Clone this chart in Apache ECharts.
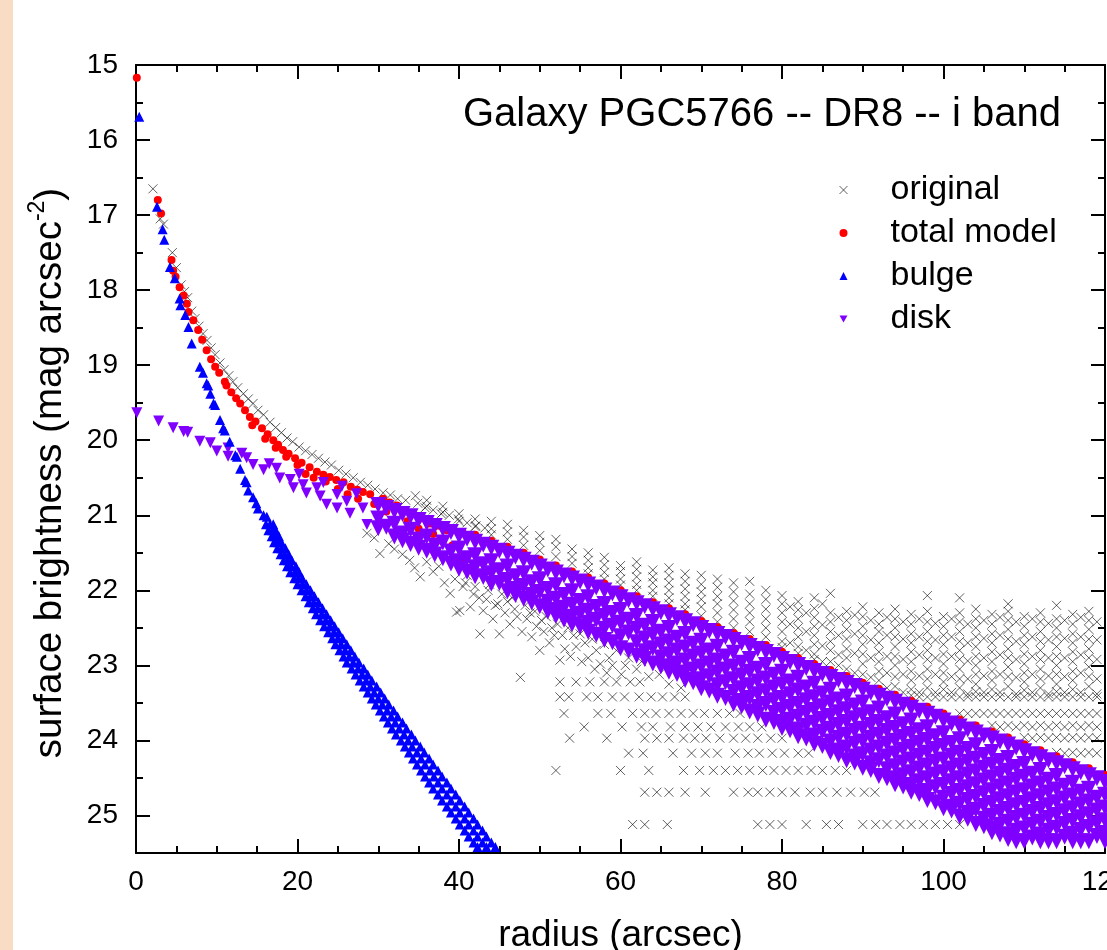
<!DOCTYPE html>
<html><head><meta charset="utf-8">
<script src="https://cdn.jsdelivr.net/npm/echarts@6/dist/echarts.min.js"></script>
<style>html,body{margin:0;padding:0;background:#fff}#c{width:1107px;height:950px}</style>
</head><body><div id="c"></div>
<script>
// ---------------- DATA ----------------
const titleText = 'Galaxy PGC5766 -- DR8 -- i band';
const xTicks = [0, 20, 40, 60, 80, 100, 120];
const yTicks = [15, 16, 17, 18, 19, 20, 21, 22, 23, 24, 25];

// original: points along the inner profile [r, mu]
const origProfile = [[2.1,16.65],[3.0,17.05],[3.4,17.12],[4.5,17.5],[5.0,17.7],[5.6,17.93],[6.0,18.02],[6.4,18.1],[6.9,18.28],[7.3,18.38],[7.8,18.48],[8.3,18.58],[8.8,18.67],[9.3,18.77],[9.8,18.86],[10.4,18.97],[10.9,19.06],[11.5,19.14],[12.0,19.22],[12.6,19.3],[13.3,19.38],[13.9,19.45],[14.5,19.51],[15.1,19.6],[15.8,19.66],[16.6,19.76],[17.3,19.83],[18.0,19.9],[18.7,19.97],[19.4,20.02],[20.2,20.09],[21.0,20.14],[21.8,20.19],[22.6,20.24],[23.4,20.29],[24.2,20.33],[25.1,20.4],[26.0,20.45],[26.9,20.5],[27.8,20.56],[28.7,20.6],[29.6,20.65],[30.6,20.7],[31.5,20.73],[32.4,20.78],[33.4,20.8],[34.6,20.74],[34.9,20.84],[35.8,20.9],[36.8,20.93],[37.8,20.98],[38.8,21.0],[39.9,21.05],[41.0,21.1],[42.1,21.14],[43.2,21.17]];
// original: scatter below the disk band [r, mu]
const origBelow = [[28.6,21.24],[29.5,21.3],[30.2,21.51],[31.3,21.38],[32.0,21.45],[33.0,21.52],[33.9,21.6],[34.5,21.7],[35.2,21.82],[36.0,21.62],[36.8,21.75],[37.5,21.68],[38.2,21.9],[38.9,22.04],[39.5,21.85],[39.7,22.29],[40.1,22.27],[40.5,21.95],[40.8,21.9],[41.0,21.8],[41.4,22.22],[41.8,22.05],[42.0,21.95],[42.5,22.1],[42.6,22.58],[43.0,22.27],[43.4,22.12],[43.6,22.0],[43.8,21.92],[44.2,22.38],[44.5,22.2],[44.8,22.18],[45.0,22.58],[45.3,22.05],[45.7,22.3],[46.0,22.15],[46.3,22.45],[46.6,22.1],[46.9,22.25],[47.2,22.35],[47.6,23.16],[47.8,22.55],[48.2,22.2],[48.4,22.38],[48.8,22.3],[49.0,22.62],[49.4,22.28],[49.6,22.48],[50.0,22.8],[50.2,22.4],[50.5,22.55],[50.8,22.35],[51.2,22.7],[51.5,22.5],[51.8,22.6],[52.2,22.45],[52.5,22.93],[52.8,22.6],[53.1,22.78],[53.5,22.5],[53.8,22.88],[54.2,22.6],[54.5,22.75],[55.0,22.58],[55.2,22.95],[55.6,22.7],[56.0,22.9],[56.5,22.65],[56.8,23.05],[57.0,22.8],[57.5,22.98],[58.0,22.72],[58.3,23.1],[58.6,22.9],[59.0,23.0],[59.5,22.8],[60.1,23.12],[60.6,23.0],[61.0,22.9],[62.0,23.05],[62.6,22.95],[63.5,23.15],[64.8,23.12],[66.0,23.25],[67.5,23.3]];
// original: cloud above the disk band, columns [r, mu1, mu2, ...]
const origUpperCols = [[36,20.8,20.88],[38,20.88,20.96],[40,20.98,21.08],[42,21.05,21.15],[44,21.08,21.18,21.26],[46,21.12,21.22,21.32],[48,21.2,21.29,21.4],[50,21.27,21.36,21.47],[52,21.32,21.42,21.55],[54,21.45,21.55,21.64],[56,21.5,21.6,21.7,21.78],[58,21.56,21.66,21.76,21.85],[60,21.67,21.75,21.85,21.93],[62,21.62,21.72,21.82,21.92,22.0],[64,21.73,21.82,21.9,22.0,22.08],[66,21.7,21.8,21.9,22.0,22.1,22.18],[68,21.78,21.88,21.98,22.08,22.18,22.26],[70,21.8,21.92,22.02,22.12,22.22,22.34],[72,21.85,21.96,22.08,22.18,22.3,22.42],[74,21.9,22.02,22.14,22.26,22.38,22.5],[76,21.88,22.05,22.18,22.3,22.42,22.55],[78,22.0,22.12,22.25,22.38,22.5,22.62],[80,22.07,22.18,22.3,22.42,22.55,22.68,22.76],[81,22.22,22.45,22.7],[82,22.15,22.26,22.38,22.5,22.62,22.75,22.84],[83,22.3,22.55,22.8],[84,22.1,22.24,22.36,22.48,22.6,22.72,22.85,22.92],[85,22.18,22.46,22.74,22.95],[86,22.04,22.3,22.42,22.55,22.68,22.8,22.95],[87,22.36,22.6,22.86,23.0],[88,22.28,22.4,22.52,22.65,22.78,22.9,23.05],[89,22.33,22.58,22.84,23.1],[90,22.22,22.35,22.48,22.6,22.72,22.85,22.98,23.12],[91,22.4,22.66,22.9,23.16],[92,22.3,22.45,22.55,22.7,22.82,22.95,23.08,23.2],[93,22.36,22.6,22.88,23.1,23.3],[94,22.25,22.38,22.5,22.62,22.75,22.88,23.0,23.15,23.28],[95,22.42,22.65,22.92,23.12,23.36],[96,22.32,22.45,22.58,22.7,22.82,22.95,23.08,23.2,23.32,23.4],[97,22.38,22.62,22.86,23.14,23.36],[98,22.07,22.28,22.42,22.55,22.68,22.8,22.92,23.05,23.18,23.3,23.42],[99,22.44,22.66,22.9,23.12,23.36],[100,22.35,22.48,22.6,22.72,22.85,22.98,23.1,23.22,23.32,23.42],[101,22.38,22.62,22.88,23.15,23.36],[102,22.1,22.3,22.42,22.55,22.68,22.8,22.92,23.05,23.18,23.3,23.42,23.64],[103,22.45,22.7,22.94,23.18,23.38],[104,22.25,22.38,22.5,22.62,22.75,22.88,23.0,23.12,23.25,23.35,23.42,23.64],[105,22.4,22.64,22.9,23.14,23.36],[106,22.32,22.45,22.58,22.7,22.82,22.95,23.08,23.2,23.32,23.42,23.64,23.8],[107,22.36,22.6,22.86,23.12,23.36],[108,22.18,22.28,22.4,22.52,22.65,22.78,22.9,23.02,23.15,23.28,23.42,23.64,23.8],[109,22.42,22.68,22.92,23.16,23.38],[110,22.35,22.48,22.6,22.72,22.85,22.98,23.1,23.22,23.33,23.42,23.64,23.8,23.96],[111,22.38,22.62,22.88,23.12,23.36],[112,22.3,22.42,22.55,22.68,22.8,22.92,23.05,23.18,23.3,23.42,23.64,23.8,23.96],[113,22.44,22.66,22.9,23.14,23.38],[114,22.2,22.38,22.5,22.62,22.75,22.88,23.0,23.12,23.25,23.35,23.42,23.64,23.8,23.96,24.16],[115,22.4,22.64,22.9,23.15,23.36],[116,22.32,22.45,22.58,22.7,22.82,22.95,23.08,23.2,23.32,23.42,23.64,23.8,23.96,24.16],[117,22.36,22.62,22.86,23.1,23.36],[118,22.28,22.4,22.52,22.65,22.78,22.9,23.02,23.15,23.28,23.42,23.64,23.8,23.96,24.16],[119,22.42,22.66,22.92,23.18,23.38]];
// original: quantised faint rows [mu, r1, r2, ...]
const origStripeRows = [
  [23.22,52.5,54.5,56.2,58.0,59.5,61.2,62.4],
  [23.42,52.5,53.6,55.8,57.2,59.0,60.5,62.3,63.8,65.2,66.7,68.0,97,99,101,103,105,107,109,111,113,115,117,119],
  [23.64,53.0,57.2,58.8,61.5,63.0,64.4,66.0,67.5,69.0,70.4,72.0,73.5,74.8,103,105,107,109,111,113,115,117,119],
  [23.82,55.5,60.2,62.6,64.0,66.2,68.0,69.6,71.2,73.0,74.6,76.0,77.5,107,109,111,113,115,117,119],
  [23.97,53.7,58.3,63.0,64.5,66.0,67.8,69.2,70.6,72.3,74.0,75.5,77.0,78.6,80.0,111,113,115,117,119],
  [24.17,61.0,62.8,66.5,68.8,70.5,72.0,74.2,75.8,77.2,78.8,80.3,82.0,83.3,115,117,119],
  [24.4,52.0,60.0,63.5,67.8,69.8,71.5,73.0,74.5,76.0,77.6,79.0,80.5,82.0,83.6,85.0,86.6,88.0],
  [24.69,63.0,64.5,66.0,68.0,70.5,74.0,75.8,77.0,78.5,80.0,81.6,83.5,85.0,86.8,88.5,90.2,91.5],
  [25.12,61.5,63.0,65.8,77.0,78.5,80.0,83.0,85.5,87.0,90.0,91.6,93.0,94.6,96.0,97.5,99.0,100.5,102.0]
];

// total model [r, mu]
const totalInner = [[0.1,15.17],[2.7,16.8],[3.1,16.98],[4.4,17.6],[4.6,17.74],[4.9,17.82],[5.4,17.96],[5.9,18.07],[6.3,18.18],[6.5,18.29],[7.1,18.4],[7.7,18.53],[8.2,18.66],[8.75,18.8],[9.3,18.92],[9.8,19.02],[10.3,19.1],[11.0,19.22],[11.2,19.27],[11.8,19.36],[12.4,19.44],[12.9,19.51],[13.5,19.6],[14.1,19.69],[14.8,19.75],[15.6,19.84],[16.3,19.92],[17.0,20.0],[17.6,20.06],[18.2,20.13],[18.9,20.18],[19.7,20.24],[20.5,20.3],[21.5,20.36],[22.4,20.42],[23.2,20.46],[24.0,20.49],[24.8,20.53],[25.7,20.56],[26.6,20.62],[27.4,20.66],[28.1,20.69],[29.0,20.72],[30.6,20.78],[31.4,20.83],[32.3,20.87],[33.3,20.93],[34.3,20.98],[35.4,21.04],[36.4,21.11],[37.5,21.14],[38.5,21.2],[40.5,21.24],[14.4,19.8],[16.0,19.98],[17.3,20.1],[18.6,20.22],[20.0,20.33],[21.0,20.45],[22.0,20.5],[23.5,20.55],[25.0,20.65],[26.2,20.72],[27.5,20.78],[29.5,20.85],[31.0,20.95],[32.3,21.2],[33.6,21.08],[35.0,21.18],[36.8,21.25],[38.0,21.35],[39.2,21.4],[40.5,21.6]];
const totalOuter = [[42,21.26],[44,21.34],[46,21.42],[48,21.5],[50,21.59],[52,21.67],[54,21.75],[56,21.83],[58,21.91],[60,22.0],[62,22.08],[64,22.16],[66,22.24],[68,22.32],[70,22.41],[72,22.49],[74,22.57],[76,22.65],[78,22.73],[80,22.82],[82,22.9],[84,22.98],[86,23.06],[88,23.14],[90,23.23],[92,23.31],[94,23.39],[96,23.47],[98,23.55],[100,23.64],[102,23.72],[104,23.8],[106,23.88],[108,23.96],[110,24.05],[112,24.13],[114,24.21],[116,24.29],[118,24.37],[120,24.46]];

// bulge: inner points [r, mu] and band rows [mu, r1, r2, ...]
const bulgeInner = [[0.4,15.69],[2.6,16.89],[3.3,17.19],[3.5,17.33],[4.2,17.69],[4.8,17.84],[5.4,18.11],[5.5,18.2],[6.1,18.33],[6.5,18.49],[6.9,18.71],[7.9,19.02],[8.3,19.1],[8.75,19.24],[8.95,19.27],[9.2,19.38],[9.6,19.51],[9.8,19.53],[10.4,19.73],[10.8,19.84],[11.0,19.87],[11.6,20.02],[12.3,20.2],[12.5,20.22],[12.9,20.38],[13.5,20.53],[13.7,20.56],[13.9,20.67],[14.5,20.76],[14.9,20.84],[15.1,20.91],[15.8,21.0],[16.2,21.02]];
const bulgeRows = [[21.12,16.1,16.6,17.0],[21.2,16.4,16.9,17.3],[21.28,16.8,17.2,17.7],[21.36,17.1,17.6,18.0],[21.44,17.5,18.0,18.5],[21.52,17.9,18.4,18.9],[21.6,18.3,18.8,19.3],[21.68,18.7,19.2,19.8],[21.76,19.1,19.7,20.2],[21.84,19.6,20.1,20.6],[21.92,20.0,20.6,21.1],[22.0,20.5,21.1,21.6],[22.08,21.0,21.6,22.1],[22.16,21.4,22.0,22.6],[22.24,21.9,22.5,23.1],[22.32,22.3,23.0,23.6],[22.4,22.8,23.5,24.1],[22.48,23.3,24.0,24.6],[22.56,23.8,24.5,25.1],[22.64,24.3,25.0,25.6],[22.72,24.7,25.4,26.1],[22.8,25.2,25.9,26.6],[22.88,25.7,26.4,27.1],[22.96,26.1,26.9,27.6],[23.04,26.7,27.5,28.2],[23.12,27.2,28.0,28.7],[23.2,27.7,28.5,29.2],[23.28,28.2,29.0,29.8],[23.36,28.7,29.5,30.3],[23.44,29.2,30.0,30.8],[23.52,29.7,30.5,31.3],[23.6,30.2,31.1,31.9],[23.68,30.7,31.6,32.4],[23.76,31.2,32.1,33.0],[23.84,31.7,32.6,33.5],[23.92,32.2,33.2,34.1],[24.0,32.8,33.7,34.6],[24.08,33.3,34.2,35.2],[24.16,33.8,34.8,35.7],[24.24,34.3,35.3,36.3],[24.32,34.8,35.8,36.8],[24.4,35.3,36.4,37.4],[24.48,35.8,36.9,37.9],[24.56,36.3,37.4,38.5],[24.64,36.8,37.9,39.0],[24.72,37.4,38.5,39.6],[24.8,37.9,39.0,40.1],[24.88,38.5,39.6,40.7],[24.96,39.0,40.1,41.2],[25.04,39.6,40.7,41.8],[25.12,40.1,41.2,42.3],[25.2,40.7,41.8,42.9],[25.28,41.2,42.3,43.4],[25.36,41.8,42.9,44.0],[25.42,42.3,43.4,44.5]];

// disk: inner points [r, mu] and band columns [r, mu1, mu2, ...]
const diskInner = [[0.1,19.62],[2.8,19.73],[4.6,19.82],[5.9,19.87],[6.4,19.88],[7.9,20.0],[9.2,20.02],[10.0,20.13],[11.4,20.09],[11.4,20.2],[13.1,20.16],[13.7,20.22],[14.5,20.31],[15.8,20.38],[16.5,20.3],[17.4,20.36],[17.8,20.49],[19.1,20.51],[19.5,20.62],[20.2,20.44],[20.7,20.58],[21.1,20.69],[22.4,20.62],[22.8,20.73],[23.2,20.55],[23.6,20.84],[24.9,20.71],[24.9,20.89],[25.5,20.6],[26.1,20.8],[26.5,20.96],[27.3,20.7],[28.1,20.89],[28.6,21.11]];
const diskCols = [[30,20.85,21.03,21.16],[32,20.93,21.1,21.27],[34,21.0,21.18,21.37],[36,21.09,21.27,21.46],[38,21.17,21.35,21.56],[40,21.26,21.43,21.6,21.7],[42,21.34,21.52,21.68,21.8],[44,21.42,21.6,21.76,21.9],[46,21.5,21.67,21.85,22.0],[48,21.58,21.76,21.93,22.1],[50,21.67,21.84,22.01,22.2],[52,21.75,21.92,22.1,22.25,22.33],[54,21.83,22.0,22.18,22.34,22.44],[56,21.91,22.08,22.26,22.42,22.54],[58,21.99,22.17,22.33,22.5,22.65],[60,22.08,22.25,22.42,22.6,22.76],[62,22.16,22.33,22.5,22.68,22.86],[64,22.24,22.41,22.58,22.76,22.96],[66,22.32,22.49,22.67,22.84,23.0,23.07],[68,22.4,22.57,22.75,22.92,23.08,23.18],[70,22.49,22.66,22.83,23.0,23.17,23.29],[72,22.57,22.74,22.92,23.08,23.25,23.39],[74,22.65,22.82,23.0,23.17,23.34,23.5],[76,22.73,22.9,23.07,23.25,23.42,23.6],[78,22.81,22.98,23.16,23.33,23.5,23.71],[80,22.9,23.07,23.24,23.42,23.58,23.75,23.82],[82,22.98,23.15,23.32,23.5,23.67,23.84,23.93],[84,23.06,23.23,23.41,23.58,23.75,23.92,24.03],[86,23.14,23.31,23.48,23.66,23.83,24.0,24.14],[88,23.22,23.4,23.57,23.74,23.91,24.08,24.25],[90,23.31,23.48,23.65,23.83,24.0,24.17,24.35],[92,23.39,23.56,23.74,23.91,24.08,24.25,24.46],[94,23.47,23.64,23.82,23.99,24.16,24.33,24.5,24.57],[96,23.55,23.72,23.9,24.07,24.24,24.41,24.58,24.67],[98,23.63,23.81,23.98,24.15,24.32,24.49,24.66,24.78],[100,23.72,23.89,24.06,24.24,24.41,24.58,24.75,24.89],[102,23.8,23.97,24.15,24.32,24.49,24.66,24.83,25.0],[104,23.88,24.05,24.23,24.4,24.57,24.74,24.91,25.1],[106,23.96,24.14,24.31,24.48,24.65,24.82,24.99,25.16,25.21],[108,24.04,24.22,24.39,24.56,24.73,24.9,25.07,25.24,25.3],[110,24.13,24.3,24.47,24.65,24.82,24.99,25.16,25.33],[112,24.21,24.38,24.56,24.73,24.9,25.07,25.24,25.33],[114,24.29,24.46,24.64,24.81,24.98,25.15,25.33],[116,24.37,24.55,24.72,24.89,25.06,25.23,25.33],[118,24.45,24.63,24.8,24.97,25.14,25.33],[120,24.54,24.71,24.88,25.05,25.22,25.33]];
// disk: in-between columns (staggered rows)
const diskColsOdd = [[31,20.89,21.14],[33,20.97,21.23,21.32],[35,21.05,21.31,21.42],[37,21.13,21.39,21.51],[39,21.21,21.47,21.63],[41,21.3,21.56,21.74],[43,21.38,21.64,21.81],[45,21.46,21.72,21.89],[47,21.54,21.8,21.97,22.05],[49,21.62,21.88,22.05,22.15],[51,21.71,21.97,22.14,22.27],[53,21.79,22.05,22.22,22.38],[55,21.87,22.13,22.3,22.47],[57,21.95,22.21,22.38,22.58],[59,22.03,22.29,22.46,22.68],[61,22.12,22.38,22.55,22.79],[63,22.2,22.46,22.63,22.8,22.9],[65,22.28,22.54,22.71,22.88,23.0],[67,22.36,22.62,22.79,22.96,23.1],[69,22.44,22.7,22.87,23.04,23.21],[71,22.53,22.79,22.96,23.13,23.32],[73,22.61,22.87,23.04,23.21,23.42],[75,22.69,22.95,23.12,23.29,23.46,23.53],[77,22.77,23.03,23.2,23.37,23.54,23.64],[79,22.85,23.11,23.28,23.45,23.62,23.74],[81,22.94,23.2,23.37,23.54,23.71,23.85],[83,23.02,23.28,23.45,23.62,23.79,23.96],[85,23.1,23.36,23.53,23.7,23.87,24.06],[87,23.18,23.44,23.61,23.78,23.95,24.12,24.18],[89,23.26,23.52,23.69,23.86,24.03,24.2,24.28],[91,23.35,23.61,23.78,23.95,24.12,24.29,24.38],[93,23.43,23.69,23.86,24.03,24.2,24.37,24.49],[95,23.51,23.77,23.94,24.11,24.28,24.45,24.6],[97,23.59,23.85,24.02,24.19,24.36,24.53,24.7],[99,23.67,23.93,24.1,24.27,24.44,24.61,24.81],[101,23.76,24.02,24.19,24.36,24.53,24.7,24.87,24.92],[103,23.84,24.1,24.27,24.44,24.61,24.78,24.95,25.03],[105,23.92,24.18,24.35,24.52,24.69,24.86,25.03,25.13],[107,24.0,24.26,24.43,24.6,24.77,24.94,25.11,25.24],[109,24.08,24.34,24.51,24.68,24.85,25.02,25.19,25.33],[111,24.17,24.43,24.6,24.77,24.94,25.11,25.28],[113,24.25,24.51,24.68,24.85,25.02,25.19,25.33],[115,24.33,24.59,24.76,24.93,25.1,25.27],[117,24.41,24.67,24.84,25.01,25.18,25.33],[119,24.49,24.75,24.92,25.09,25.26]];

// ---------------- build point lists from the arrays ----------------
function colsToPts(cols){ const o=[]; cols.forEach(c=>{ for(let i=1;i<c.length;i++) o.push([c[0],c[i]]); }); return o; }
function rowsToPts(rows){ const o=[]; rows.forEach(r=>{ for(let i=1;i<r.length;i++) o.push([r[i],r[0]]); }); return o; }
const origData  = origProfile.concat(origBelow, colsToPts(origUpperCols), rowsToPts(origStripeRows));
const totalData = totalInner.concat(totalOuter);
const bulgeData = bulgeInner.concat(rowsToPts(bulgeRows));
const diskData  = diskInner.concat(colsToPts(diskCols), colsToPts(diskColsOdd));

// ---------------- chart ----------------
const FONT = '"Liberation Sans", Arial, Helvetica, sans-serif';
const chart = echarts.init(document.getElementById('c'), null, {renderer:'canvas', width:1107, height:950});
const blk = {color:'#000', width:2};

function xAx(pos, labels){
  return {type:'value', position:pos, min:0, max:120, interval:20,
    axisLine:{show:true, onZero:false, lineStyle:blk},
    axisTick:{show:true, inside:true, length:14, lineStyle:blk},
    minorTick:{show:true, splitNumber:4, length:7, lineStyle:blk},
    splitLine:{show:false}, minorSplitLine:{show:false},
    axisLabel:{show:labels, fontSize:28, color:'#000', margin:15, fontFamily:FONT},
    name: labels ? 'radius (arcsec)' : '', nameLocation:'middle', nameGap:64,
    nameTextStyle:{fontSize:37, color:'#000', fontFamily:FONT}};
}
function yAx(pos, step, tickLen, labels, line){
  return {type:'value', position:pos, offset:0, inverse:true, min:15, max:25.5, interval:step,
    axisLine:{show:line, onZero:false, lineStyle:blk},
    axisTick:{show:true, inside:true, length:tickLen, lineStyle:blk},
    splitLine:{show:false},
    axisLabel:{show:labels, fontSize:28, color:'#000', margin:18, fontFamily:FONT,
      formatter: v => (yTicks.indexOf(v) >= 0 ? String(v) : '')},
    name: labels ? 'surface brightness (mag arcsec{s|-2})' : '',
    nameLocation:'middle', nameGap:62,
    nameTextStyle:{fontSize:38.5, color:'#000', fontFamily:FONT, lineHeight:48, padding:[0,28,0,0],
      rich:{s:{fontSize:23, lineHeight:23, verticalAlign:'top', color:'#000', fontFamily:FONT}}}};
}

const option = {
  animation:false,
  backgroundColor:'#ffffff',
  textStyle:{fontFamily:FONT},
  graphic:[{type:'rect', left:0, top:0, z:-10, silent:true, shape:{x:0,y:0,width:13,height:950}, style:{fill:'#f9dcc4'}}],
  title:{text:titleText, right:41, top:90, padding:5,
    textStyle:{fontSize:40, fontWeight:'normal', color:'#000', fontFamily:FONT}},
  legend:{orient:'vertical', left:834, top:168, padding:5, itemWidth:8, itemHeight:8, itemGap:9,
    textStyle:{fontSize:34, color:'#000', fontFamily:FONT, padding:[0,0,0,38]},
    data:[{name:'original', itemStyle:{borderWidth:1}}, 'total model', 'bulge',
          {name:'disk', icon:'path://M0,0L10,0L5,9Z'}]},
  grid:{left:136, top:65, right:2, bottom:97, containLabel:false, outerBoundsMode:'none'},
  xAxis:[xAx('bottom', true), xAx('top', false)],
  yAxis:[yAx('left',1,14,true,true), yAx('right',1,14,false,true), yAx('left',0.5,7,false,false), yAx('right',0.5,7,false,false)],
  series:[
    {name:'original', type:'scatter', xAxisIndex:0, yAxisIndex:0, data:origData,
      symbol:'path://M0,0L10,10M0,10L10,0', symbolSize:9,
      itemStyle:{color:'rgba(0,0,0,0)', borderColor:'rgba(0,0,0,0.62)', borderWidth:1, opacity:1}},
    {name:'total model', type:'scatter', xAxisIndex:0, yAxisIndex:0, data:totalData,
      symbol:'circle', symbolSize:8, itemStyle:{color:'#ff0000', opacity:1}},
    {name:'disk', type:'scatter', xAxisIndex:0, yAxisIndex:0, data:diskData,
      symbol:'triangle', symbolRotate:180,
      symbolSize: v => (v[0] >= 29.9 ? 16 : 11),
      symbolOffset: [0, 1],
      itemStyle:{color:'#8000ff', opacity:1}},
    {name:'bulge', type:'scatter', xAxisIndex:0, yAxisIndex:0, data:bulgeData,
      symbol:'triangle', symbolSize:10, itemStyle:{color:'#0000ff', opacity:1}}
  ]
};
chart.setOption(option);
</script></body></html>
